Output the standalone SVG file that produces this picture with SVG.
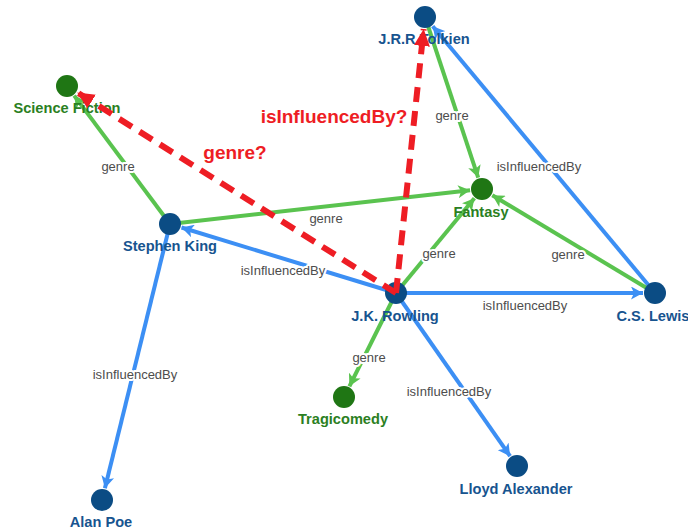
<svg xmlns="http://www.w3.org/2000/svg" width="688" height="531" viewBox="0 0 688 531">
  <style>
    .edge { fill: none; stroke-width: 4; }
    .infl { stroke: #3c8ff4; marker-end: url(#arrowBlue); }
    .genre { stroke: #5ac34f; marker-end: url(#arrowGreen); }
    .proposed { fill: none; stroke: #ee1d24; stroke-width: 6; stroke-dasharray: 15 9; marker-end: url(#arrowRed); }
    .elabel { font-family: "Liberation Sans", Arial, sans-serif; font-size: 13px; fill: #4d4d4d; text-anchor: middle; stroke: #ffffff; stroke-width: 4; stroke-linejoin: round; paint-order: stroke; }
    .plabel { font-family: "Liberation Sans", Arial, sans-serif; font-size: 19px; font-weight: bold; fill: #ee1d24; text-anchor: middle; }
    .person circle { fill: #0b4c84; }
    .person text { fill: #17548f; }
    .kind circle { fill: #1f7614; }
    .kind text { fill: #2b7f22; }
    .node text { font-family: "Liberation Sans", Arial, sans-serif; font-size: 14.6px; font-weight: bold; text-anchor: middle; }
  </style>
  <defs>
    <marker id="arrowBlue" markerUnits="userSpaceOnUse" markerWidth="13" markerHeight="13" refX="12" refY="6.5" orient="auto">
      <path d="M0,0 L12,6.5 L0,13 L3,6.5 z" fill="#3c8ff4"/>
    </marker>
    <marker id="arrowGreen" markerUnits="userSpaceOnUse" markerWidth="13" markerHeight="13" refX="12" refY="6.5" orient="auto">
      <path d="M0,0 L12,6.5 L0,13 L3,6.5 z" fill="#5ac34f"/>
    </marker>
    <marker id="arrowRed" markerUnits="userSpaceOnUse" markerWidth="18" markerHeight="16" refX="17" refY="8" orient="auto">
      <path d="M0,0 L17,8 L0,16 z" fill="#ee1d24"/>
    </marker>
  </defs>
  <rect width="688" height="531" fill="#ffffff"/>

  <g id="connectors">
    <line class="edge genre" x1="170" y1="224" x2="74.2" y2="95.6"/>
    <line class="edge genre" x1="170" y1="224" x2="470.1" y2="190.3"/>
    <line class="edge infl" x1="396" y1="293" x2="181.5" y2="227.5"/>
    <line class="edge genre" x1="396" y1="293" x2="474.4" y2="198.2"/>
    <line class="edge infl" x1="396" y1="293" x2="643" y2="293"/>
    <line class="edge genre" x1="396" y1="293" x2="349.4" y2="386.3"/>
    <line class="edge infl" x1="396" y1="293" x2="510.1" y2="456.2"/>
    <line class="edge infl" x1="170" y1="224" x2="104.9" y2="488.3"/>
    <line class="edge genre" x1="425" y1="17" x2="478.2" y2="177.6"/>
    <line class="edge infl" x1="655" y1="293" x2="432.7" y2="26.2"/>
    <line class="edge genre" x1="655" y1="293" x2="492.3" y2="195.2"/>

    <text class="elabel" x="118" y="171">genre</text>
    <text class="elabel" x="326" y="223">genre</text>
    <text class="elabel" x="283" y="275">isInfluencedBy</text>
    <text class="elabel" x="439" y="258">genre</text>
    <text class="elabel" x="568" y="259">genre</text>
    <text class="elabel" x="525" y="310">isInfluencedBy</text>
    <text class="elabel" x="369" y="362">genre</text>
    <text class="elabel" x="449" y="396">isInfluencedBy</text>
    <text class="elabel" x="135" y="379">isInfluencedBy</text>
    <text class="elabel" x="452" y="120">genre</text>
    <text class="elabel" x="539" y="171">isInfluencedBy</text>
  </g>

  <g id="nodes">
    <g id="tolkien" class="node person"><circle cx="425" cy="17" r="11"/><text x="424" y="44">J.R.R Tolkien</text></g>
    <g id="science-fiction" class="node kind"><circle cx="67" cy="86" r="11"/><text x="67" y="113">Science Fiction</text></g>
    <g id="stephen-king" class="node person"><circle cx="170" cy="224" r="11"/><text x="170" y="251">Stephen King</text></g>
    <g id="fantasy" class="node kind"><circle cx="482" cy="189" r="11"/><text x="481" y="217">Fantasy</text></g>
    <g id="rowling" class="node person"><circle cx="396" cy="293" r="11"/><text x="395" y="321">J.K. Rowling</text></g>
    <g id="lewis" class="node person"><circle cx="655" cy="293" r="11"/><text x="653" y="321">C.S. Lewis</text></g>
    <g id="tragicomedy" class="node kind"><circle cx="344" cy="397" r="11"/><text x="343" y="424">Tragicomedy</text></g>
    <g id="lloyd-alexander" class="node person"><circle cx="517" cy="466" r="11"/><text x="516" y="494">Lloyd Alexander</text></g>
    <g id="alan-poe" class="node person"><circle cx="102" cy="500" r="11"/><text x="101" y="527">Alan Poe</text></g>
  </g>

  <g id="proposed-links">
    <line class="proposed" x1="396" y1="293" x2="77.2" y2="92.4"/>
    <line class="proposed" x1="396" y1="293" x2="423.7" y2="29"/>
    <text class="plabel" x="235" y="159">genre?</text>
    <text class="plabel" x="334" y="123">isInfluencedBy?</text>
  </g>
</svg>
